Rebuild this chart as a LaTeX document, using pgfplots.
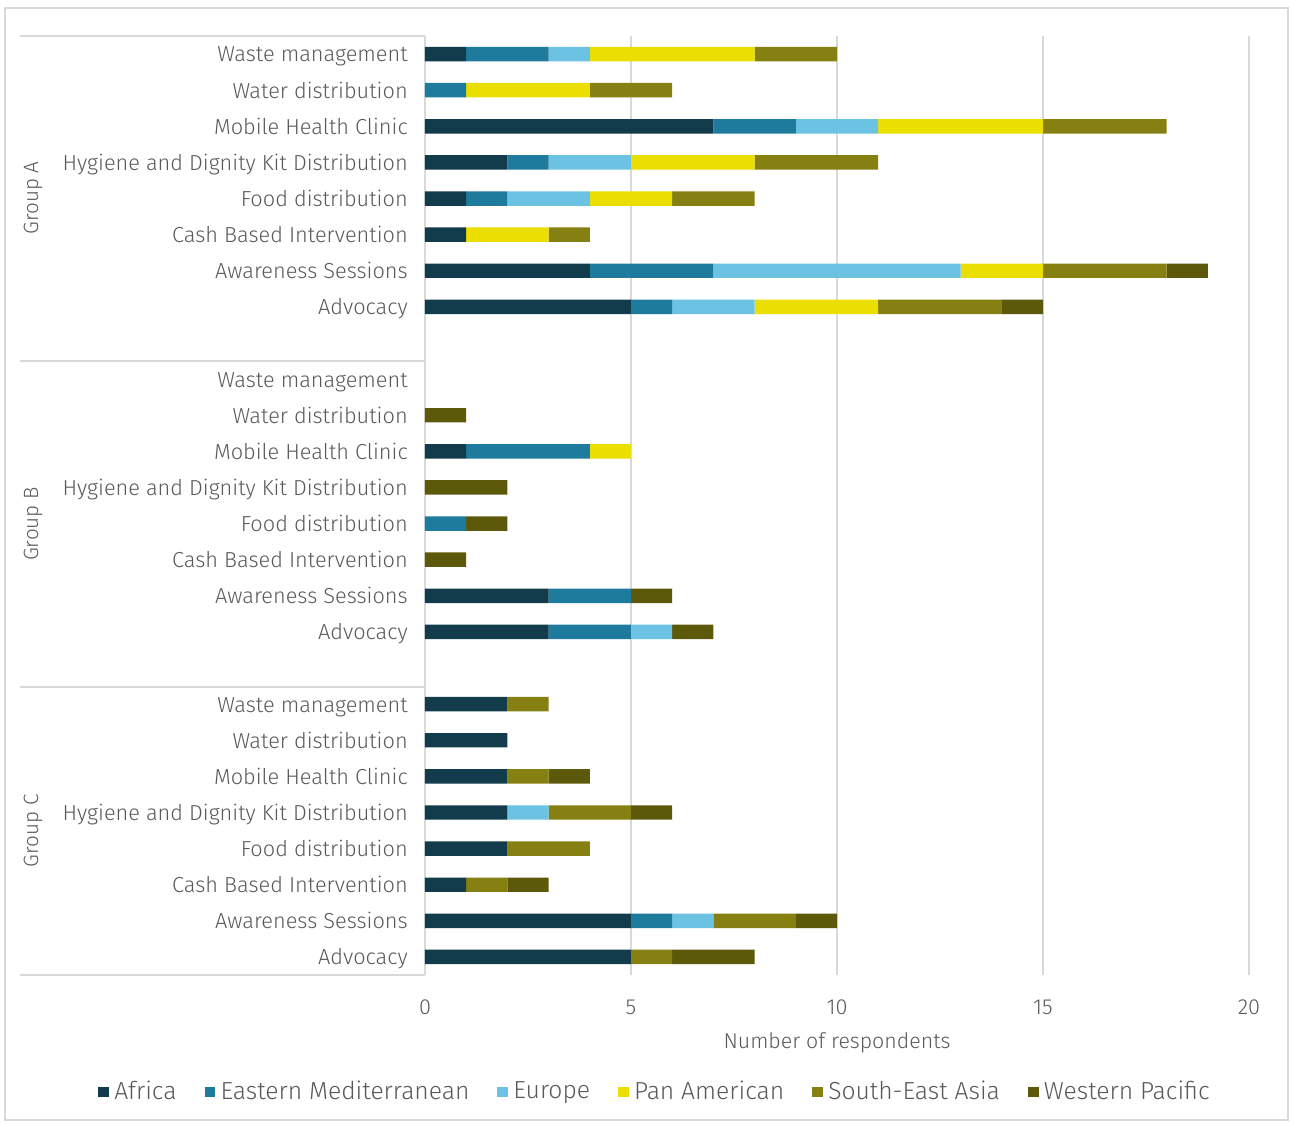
\documentclass[border=0pt]{standalone}
\usepackage{pgfplots}
\pgfplotsset{compat=1.18}
\usepackage{pgfplotstable}
\usepackage{fontspec}
\IfFontExistsTF{Fira Sans Light}{\setmainfont{Fira Sans Light}}{\setmainfont{Fira Sans}}
\definecolor{cAfr}{HTML}{123B4C}
\definecolor{cEM}{HTML}{1F7B9E}
\definecolor{cEur}{HTML}{6CC2E3}
\definecolor{cPA}{HTML}{EADF00}
\definecolor{cSEA}{HTML}{858011}
\definecolor{cWP}{HTML}{5C5A0A}
\definecolor{txt}{HTML}{595959}
\definecolor{gridc}{HTML}{D9D9D9}
\pgfplotstableread{
pos Afr EM Eur PA SEA WP
0 1 2 1 4 2 0
1 0 1 0 3 2 0
2 7 2 2 4 3 0
3 2 1 2 3 3 0
4 1 1 2 2 2 0
5 1 0 0 2 1 0
6 4 3 6 2 3 1
7 5 1 2 3 3 1
9 0 0 0 0 0 0
10 0 0 0 0 0 1
11 1 3 0 1 0 0
12 0 0 0 0 0 2
13 0 1 0 0 0 1
14 0 0 0 0 0 1
15 3 2 0 0 0 1
16 3 2 1 0 0 1
18 2 0 0 0 1 0
19 2 0 0 0 0 0
20 2 0 0 0 1 1
21 2 0 1 0 2 1
22 2 0 0 0 2 0
23 1 0 0 0 1 1
24 5 1 1 0 2 1
25 5 0 0 0 1 2
}\datatable
\begin{document}
\fontsize{15pt}{18pt}\selectfont
\begin{tikzpicture}
\useasboundingbox (-318.75pt,-110.25pt) rectangle (649.5pt,731.25pt);
\draw[gridc, line width=0.9pt] (-315pt,-108.75pt) rectangle (647.25pt,725.25pt);
\begin{axis}[
  at={(0pt,0pt)}, anchor=south west,
  scale only axis, width=618pt, height=704.25pt,
  xbar stacked, bar width=0.4,
  y dir=reverse,
  xmin=0, xmax=20, ymin=-0.5, ymax=25.5,
  xtick={0,5,10,15,20},
  ytick={0,1,2,3,4,5,6,7,9,10,11,12,13,14,15,16,18,19,20,21,22,23,24,25},
  yticklabels={Waste management,Water distribution,Mobile Health Clinic,Hygiene and Dignity Kit Distribution,Food distribution,Cash Based Intervention,Awareness Sessions,Advocacy,
    Waste management,Water distribution,Mobile Health Clinic,Hygiene and Dignity Kit Distribution,Food distribution,Cash Based Intervention,Awareness Sessions,Advocacy,
    Waste management,Water distribution,Mobile Health Clinic,Hygiene and Dignity Kit Distribution,Food distribution,Cash Based Intervention,Awareness Sessions,Advocacy},
  major tick length=0pt,
  axis line style={draw=none},
  xmajorgrids, major grid style={gridc, line width=1.1pt},
  /pgf/number format/assume math mode=true,
  tick label style={font=\fontsize{16.3pt}{19pt}\selectfont, text=txt},
  yticklabel style={inner sep=0pt, anchor=mid east, xshift=-12.75pt, yshift=-2pt},
  xticklabel style={inner sep=0pt, anchor=center, yshift=-24pt},
  xlabel={Number of respondents},
  xlabel style={at={(axis description cs:0.5,-0.0692)}, anchor=center, yshift=-2pt, text=txt, font=\fontsize{16pt}{19pt}\selectfont},
  legend columns=6,
  legend style={draw=none, at={(0.2795,-0.1245)}, anchor=center, font=\fontsize{18.5pt}{21pt}\selectfont, text=txt,
    /tikz/every odd column/.append style={column sep=2pt},
    /tikz/every even column/.append style={column sep=19pt}, inner sep=0pt},
  legend image code/.code={\fill[#1] (0pt,-4pt) rectangle (8pt,4pt);},
]
\addplot[fill=cAfr, draw=none] table[x=Afr, y=pos] {\datatable};
\addplot[fill=cEM, draw=none] table[x=EM, y=pos] {\datatable};
\addplot[fill=cEur, draw=none] table[x=Eur, y=pos] {\datatable};
\addplot[fill=cPA, draw=none] table[x=PA, y=pos] {\datatable};
\addplot[fill=cSEA, draw=none] table[x=SEA, y=pos] {\datatable};
\addplot[fill=cWP, draw=none] table[x=WP, y=pos] {\datatable};
\legend{Africa,Eastern Mediterranean,Europe,Pan American,South-East Asia,Western Pacific}
\end{axis}
\draw[gridc, line width=1.1pt] (-303.75pt,704.25pt) -- (0pt,704.25pt);
\draw[gridc, line width=1.1pt] (-303.75pt,460.5pt) -- (0pt,460.5pt);
\draw[gridc, line width=1.1pt] (-303.75pt,216pt) -- (0pt,216pt);
\draw[gridc, line width=1.1pt] (-303.75pt,0pt) -- (0pt,0pt);
\begin{scope}[every node/.style={rotate=90, text=txt, anchor=center, font=\fontsize{15.5pt}{18pt}\selectfont}]
\node at (-294pt,582.75pt) {Group A};
\node at (-294pt,338.25pt) {Group B};
\node at (-294pt,108pt) {Group C};
\end{scope}
\end{tikzpicture}
\end{document}
